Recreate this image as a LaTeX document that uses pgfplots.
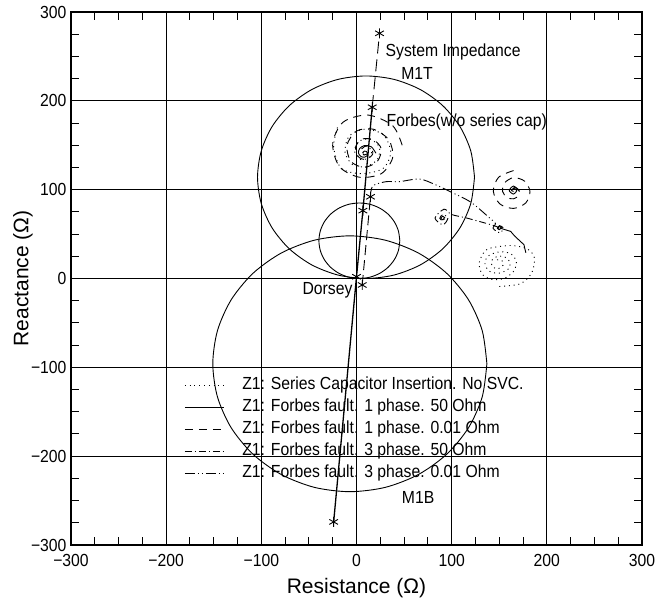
\documentclass[border=0pt]{standalone}
\usepackage{fontspec}
\setmainfont{Liberation Sans}
\newfontfamily\plotfont{Liberation Sans}[FakeStretch=0.9]
\usepackage{pgfplots}
\pgfplotsset{compat=1.18}
\newcommand\tickfont{\plotfont\fontsize{17.5bp}{20bp}\selectfont}
\newcommand\txtfont{\plotfont\fontsize{17.5bp}{20bp}\selectfont}
\newcommand\labfont{\fontsize{21bp}{25bp}\selectfont}
\tikzset{
  dotsty/.style={dash pattern=on 1bp off 3.8bp},
  dashsty/.style={dash pattern=on 8bp off 6bp},
  dashdot/.style={dash pattern=on 7bp off 3bp on 1bp off 3bp},
  dashdotdot/.style={dash pattern=on 10bp off 3bp on 1bp off 3bp on 1bp off 3bp},
}
\begin{document}
\begin{tikzpicture}
\begin{axis}[
  at={(0,0)}, anchor=south west,
  scale only axis, width=571bp, height=533bp,
  xmin=-300, xmax=300, ymin=-300, ymax=300,
  xtick={-300,-200,...,300}, ytick={-300,-200,...,300},
  xticklabels={−300,−200,−100,0,100,200,300},
  yticklabels={−300,−200,−100,0,100,200,300},
  minor tick num=3, tick align=inside,
  major tick length=0pt, minor tick length=8bp,
  every tick/.style={black, line width=1bp},
  grid=major, major grid style={black, line width=1.1bp},
  axis line style={line width=1.6bp},
  ticklabel style={font=\tickfont},
  xticklabel style={yshift=-6bp},
  yticklabel style={xshift=-1bp},
  xlabel={Resistance (Ω)}, ylabel={Reactance (Ω)},
  xlabel style={font=\labfont, inner sep=0pt, at={(axis description cs:0.5,0)}, anchor=north, yshift=-33bp},
  ylabel style={font=\labfont, inner sep=0pt, at={(axis description cs:-0.0665,0.5)}, anchor=south},
  legend cell align=left,
  legend image code/.code={\draw[#1] (0bp,0bp) -- (39bp,0bp);},
  legend style={at={(0.1983,0.316)}, anchor=north west, draw=none, fill=none,
    inner sep=0pt, row sep=5bp, font=\txtfont,
    nodes={inner sep=1bp, text height=12bp, text depth=3bp},
    /tikz/every odd column/.append style={column sep=17bp}},
  every axis plot/.append style={black, line width=0.9bp},
]
% mho circles
\addplot[smooth, forget plot] coordinates {
 (124,114) (120.1,143.5) (108.7,171) (90.6,194.6) (67,212.7) (39.5,224.1) (10,228)
 (-19.5,224.1) (-47,212.7) (-70.6,194.6) (-88.7,171) (-100.1,143.5) (-104,114)
 (-100.1,84.5) (-88.7,57) (-70.6,33.4) (-47,15.3) (-19.5,3.9) (10,0)
 (39.5,3.9) (67,15.3) (90.6,33.4) (108.7,57) (120.1,84.5) (124,114)};
\addplot[smooth, forget plot] coordinates {
 (45.5,42.5) (44.05,53.5) (39.8,63.75) (33.05,72.55) (24.25,79.3) (14,83.55) (3,85)
 (-8,83.55) (-18.25,79.3) (-27.05,72.55) (-33.8,63.75) (-38.05,53.5) (-39.5,42.5)
 (-38.05,31.5) (-33.8,21.25) (-27.05,12.45) (-18.25,5.7) (-8,1.45) (3,0)
 (14,1.45) (24.25,5.7) (33.05,12.45) (39.8,21.25) (44.05,31.5) (45.5,42.5)};
\addplot[smooth, forget plot] coordinates {
 (137,-96) (132.1,-58.7) (117.7,-24) (94.8,5.8) (65,28.7) (30.3,43.1) (-7,48)
 (-44.3,43.1) (-79,28.7) (-108.8,5.8) (-131.7,-24) (-146.1,-58.7) (-151,-96)
 (-146.1,-133.3) (-131.7,-168) (-108.8,-197.8) (-79,-220.7) (-44.3,-235.1) (-7,-240)
 (30.3,-235.1) (65,-220.7) (94.8,-197.8) (117.7,-168) (132.1,-133.3) (137,-96)};

% Z1: series capacitor insertion, no SVC
\addplot[dotsty, smooth] coordinates {
 (150,-9) (172,-6) (184,6) (187,23) (180,33) (165,37) (150,36) (136,32) (129,18)
 (132,5) (142,-1) (155,0) (165,8) (168,19) (162,28) (150,30) (138,25) (135,16)
 (140,8) (150,6) (160,11) (161,19) (156,24) (148,25) (142,20) (143,13) (149,11)
 (154,15) (153,20) (148,21) (146,18)};
\addlegendentry{Z1: Series Capacitor Insertion. No SVC.}
% Z1: Forbes fault, 1 phase, 50 Ohm
\addplot[solid, smooth] coordinates {
 (20.4,141) (15.6,148.2) (8.4,149.7) (3.2,146.2) (2.1,141) (4.7,137.3) (8.4,136.5)
 (11.2,138.2) (11.7,141) (10.4,143) (8.4,143.4) (7,142.4) (6.7,141)};
\addlegendentry{Z1: Forbes fault. 1 phase. 50 Ohm}
% Z1: Forbes fault, 1 phase, 0.01 Ohm
\addplot[dashsty, smooth] coordinates {
 (48,150) (38,172) (12,184) (-14,176) (-25,152) (-18,126) (3,114) (26,118) (38,136)
 (34,156) (18,168) (0,166) (-10,150) (-6,132) (8,125) (22,132) (26,146) (18,156)
 (6,157) (-1,148) (2,137) (10,134) (17,140) (15,148) (9,149) (5,144) (8,139) (12,141)};
\addlegendentry{Z1: Forbes fault. 1 phase. 0.01 Ohm}
% Z1: Forbes fault, 3 phase, 50 Ohm
\addplot[dashdot, smooth] coordinates {
 (150,57) (143,60) (116,68) (100,72) (92,78) (82.5,68) (90.8,60.5) (96,67.8)
 (90.8,72) (87.5,67.8) (90.8,65) (92.5,67.8)};
\addlegendentry{Z1: Forbes fault. 3 phase. 50 Ohm}
% Z1: Forbes fault, 3 phase, 0.01 Ohm
\addplot[dashdotdot, smooth] coordinates {
 (14.7,92) (17,104) (31,109) (45,109) (66,112) (82,106) (98,98) (120,86) (140,68)
 (146,62) (143.5,56.5) (150.4,51.5) (154.4,56.5) (150.4,59.5) (148,56.5) (150.4,55) (151.5,56.5)};
\addlegendentry{Z1: Forbes fault. 3 phase. 0.01 Ohm}

% further parts of the loci
\addplot[dotsty, smooth, forget plot] coordinates {
 (-20,170) (-24,148) (-16,124) (6,118) (28,124) (36,142) (28,162) (8,168) (-8,160)
 (-12,142) (-4,128) (10,126) (22,134) (24,148) (14,157) (2,154) (-2,143) (4,134)
 (13,136) (16,144) (10,149) (5,145) (8,140)};
\addplot[dashsty, smooth, forget plot] coordinates {
 (165,121.5) (149.2,113.8) (143.8,98) (150.8,83.8) (165,78.9) (177.9,85.1) (182.3,98)
 (176.6,109.6) (165,113.6) (155.5,107.5) (153.5,98) (158.1,91.1) (165,89.7) (170,93)
 (171,98) (168.6,101.6) (165,102.3)};
\addplot[solid, smooth, forget plot] coordinates {
 (171,99) (165,104) (160.5,99) (165,95) (168.5,99) (165,101.5) (163,99) (165,98)};
\addplot[solid, smooth, forget plot] coordinates {
 (93,68) (90.8,70) (88.6,68) (90.8,66) (92,68)};
\addplot[solid, smooth, forget plot] coordinates {
 (152.5,57) (150.4,59) (148.3,57) (150.4,55) (151.5,57)};
\addplot[solid, forget plot] coordinates {
 (151.5,56.5) (156,55) (162,53) (166,48) (170,44) (176,38) (177,33) (178,29)};

% system impedance line and operating points
\addplot[solid, line width=1.3bp, forget plot] coordinates {
 (-24,-274) (0,2) (6.7,76.4) (16.5,192.8)};
\addplot[dash pattern=on 12bp off 6bp, forget plot] coordinates {(16.5,192.8) (24.2,276)};
\addplot[dash pattern=on 10bp off 5bp, forget plot] coordinates {(6,-7.3) (14.7,92)};
\addplot[only marks, mark=asterisk, mark size=5bp, forget plot] coordinates {
 (-24,-274) (0,2) (6,-7.3) (6.7,76.4) (14.7,92) (16.5,192.8) (24.2,276)};

\node[anchor=west, font=\txtfont, inner sep=0pt] at (axis cs:30.5,255) {System Impedance};
\node[font=\txtfont, inner sep=0pt] at (axis cs:63.6,231) {M1T};
\node[anchor=west, font=\txtfont, inner sep=0pt] at (axis cs:31.5,176) {Forbes(w/o series cap)};
\node[anchor=east, font=\txtfont, inner sep=0pt] at (axis cs:-4,-13) {Dorsey};
\node[font=\txtfont, inner sep=0pt] at (axis cs:64.7,-246) {M1B};
\end{axis}
\path (-71bp,-51bp) rectangle (596bp,545bp);
\end{tikzpicture}
\end{document}
